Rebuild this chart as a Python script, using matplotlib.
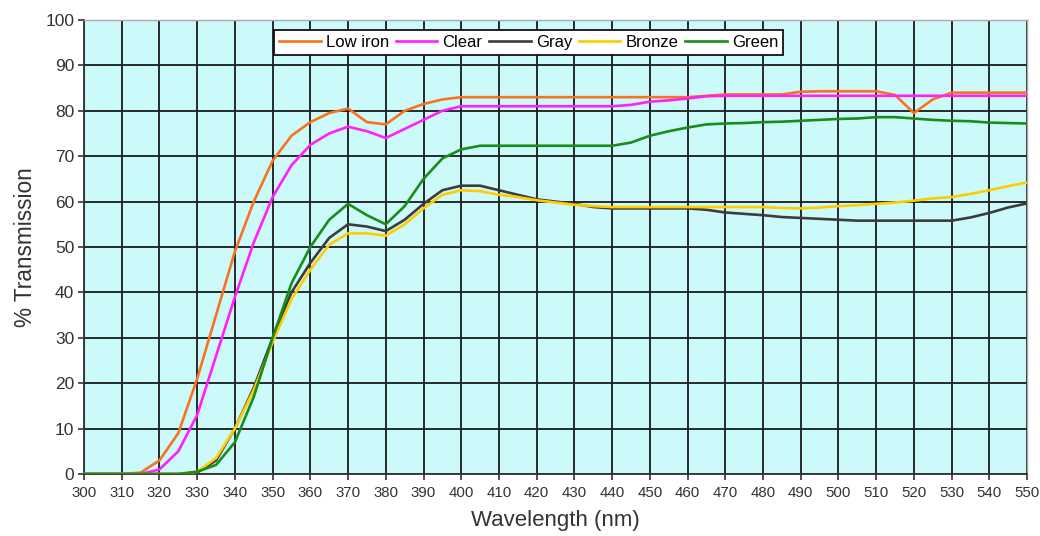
import numpy as np
import matplotlib
matplotlib.use("Agg")
import matplotlib.pyplot as plt

plt.rcParams["font.family"] = ["Liberation Sans", "DejaVu Sans"]

# wavelength grid, 5 nm steps
wavelength = np.arange(300, 551, 5)

low_iron = [0, 0, 0, 0.3, 3, 9, 21, 35, 49, 60, 69, 74.5, 77.5, 79.5, 80.5, 77.5,
            77, 80, 81.5, 82.5, 83, 83, 83, 83, 83, 83, 83, 83, 83, 83, 83, 83,
            83, 83.3, 83.6, 83.6, 83.6, 83.6, 84.2, 84.3, 84.3, 84.3, 84.3, 83.5,
            79.5, 82.5, 84, 84, 84, 84, 84]
clear = [0, 0, 0, 0, 1, 5, 13, 26, 39, 51, 61, 68, 72.5, 75, 76.5, 75.5,
         74, 76, 78, 80, 81, 81, 81, 81, 81, 81, 81, 81, 81, 81.3, 82, 82.3,
         82.7, 83.2, 83.3, 83.3, 83.3, 83.3, 83.3, 83.3, 83.3, 83.3, 83.3, 83.3,
         83.3, 83.3, 83.3, 83.3, 83.3, 83.3, 83.3]
gray = [0, 0, 0, 0, 0, 0, 0.3, 3, 10, 19, 30, 40, 46.5, 52, 55, 54.5,
        53.5, 56, 59.5, 62.5, 63.5, 63.5, 62.5, 61.5, 60.5, 60, 59.5, 58.8, 58.5,
        58.5, 58.5, 58.5, 58.5, 58.2, 57.6, 57.3, 57, 56.6, 56.4, 56.2, 56,
        55.8, 55.8, 55.8, 55.8, 55.8, 55.8, 56.5, 57.5, 58.7, 59.6]
bronze = [0, 0, 0, 0, 0, 0, 0.5, 3.5, 10, 18.5, 29, 38.5, 45, 50.5, 53, 53,
          52.5, 55, 58.5, 61.5, 62.5, 62.3, 61.5, 61, 60.3, 59.8, 59.3, 59, 58.8,
          58.8, 58.8, 58.8, 58.8, 58.8, 58.8, 58.8, 58.8, 58.6, 58.5, 58.7, 59,
          59.2, 59.5, 59.8, 60.2, 60.7, 61, 61.7, 62.5, 63.4, 64.2]
green = [0, 0, 0, 0, 0, 0, 0.5, 2, 7, 17, 30, 42, 50, 56, 59.5, 57,
         55, 59, 65, 69.5, 71.5, 72.3, 72.3, 72.3, 72.3, 72.3, 72.3, 72.3, 72.3,
         73, 74.5, 75.5, 76.3, 77, 77.2, 77.3, 77.5, 77.6, 77.8, 78, 78.2,
         78.3, 78.6, 78.6, 78.3, 78, 77.8, 77.7, 77.4, 77.3, 77.2]

series_names = ["Low iron", "Clear", "Gray", "Bronze", "Green"]
series_colors = ["#f7731f", "#ff1fff", "#3c3c3c", "#ffcc00", "#1a8c1a"]

fig = plt.figure(figsize=(10.4, 5.36), dpi=100)
ax = fig.add_axes([0.0808, 0.1157, 0.9067, 0.847])
ax.set_facecolor("#ccfafa")

for vals, name, col in zip([low_iron, clear, gray, bronze, green], series_names, series_colors):
    ax.plot(wavelength, vals, color=col, lw=1.9, label=name, zorder=3)

ax.set_xlim(300, 550)
ax.set_ylim(0, 100)
ax.set_xticks(np.arange(300, 551, 10))
ax.set_yticks(np.arange(0, 101, 10))
ax.grid(True, color="#1a1a1a", lw=1.3, zorder=1)
ax.set_axisbelow(True)

ax.tick_params(axis="x", labelsize=10.8, colors="#333333", length=4, width=1.2, pad=5)
ax.tick_params(axis="y", labelsize=12.5, colors="#333333", length=4, width=1.2, pad=3)
for side in ["left", "bottom"]:
    ax.spines[side].set_color("#333333")
    ax.spines[side].set_linewidth(1.3)
for side in ["top", "right"]:
    ax.spines[side].set_color("#aaaaaa")
    ax.spines[side].set_linewidth(1.0)

ax.set_xlabel("Wavelength (nm)", fontsize=16, color="#333333", labelpad=7)
ax.set_ylabel("% Transmission", fontsize=16.3, color="#333333", labelpad=6)

leg = ax.legend(loc="upper center", bbox_to_anchor=(0.4715, 0.978), ncol=5,
                fontsize=12, frameon=True, fancybox=False, handlelength=2.5,
                handletextpad=0.3, columnspacing=0.4, borderpad=0.3,
                borderaxespad=0)
leg.get_frame().set_edgecolor("#111111")
leg.get_frame().set_linewidth(1.3)
leg.get_frame().set_facecolor("white")
leg.get_frame().set_alpha(1)
leg.set_zorder(5)

fig.savefig("out.png", dpi=100, facecolor="white")
